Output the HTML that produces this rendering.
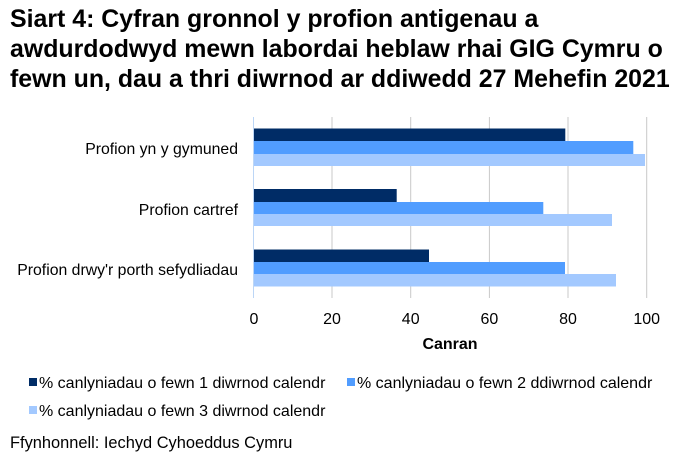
<!DOCTYPE html>
<html><head><meta charset="utf-8"><style>
body{margin:0;background:#fff;}
svg{display:block;font-family:"Liberation Sans",sans-serif;}
</style></head><body>
<svg width="677" height="469" xmlns="http://www.w3.org/2000/svg">
<g font-weight="bold" font-size="24.9" fill="#000">
<text x="10" y="27">Siart 4: Cyfran gronnol y profion antigenau a</text>
<text x="10" y="57">awdurdodwyd mewn labordai heblaw rhai GIG Cymru o</text>
<text x="10" y="87">fewn un, dau a thri diwrnod ar ddiwedd 27 Mehefin 2021</text>
</g>
<g stroke="#c8c8c8" stroke-width="1">
<line x1="332" y1="117" x2="332" y2="298"/><line x1="410.7" y1="117" x2="410.7" y2="298"/>
<line x1="489.4" y1="117" x2="489.4" y2="298"/><line x1="568" y1="117" x2="568" y2="298"/>
<line x1="646.7" y1="117" x2="646.7" y2="298"/>
</g>
<line x1="253.5" y1="117" x2="253.5" y2="298" stroke="#bcd6f6"/>
<g>
<rect x="254" y="128.5" width="311.3" height="12.5" fill="#002c66"/>
<rect x="254" y="141" width="379.3" height="13" fill="#519dff"/>
<rect x="254" y="154" width="391" height="12" fill="#a3c9ff"/>
<rect x="254" y="189" width="142.7" height="13" fill="#002c66"/>
<rect x="254" y="202" width="289.3" height="12" fill="#519dff"/>
<rect x="254" y="214" width="358" height="12" fill="#a3c9ff"/>
<rect x="254" y="249.5" width="175" height="12.5" fill="#002c66"/>
<rect x="254" y="262" width="311" height="12" fill="#519dff"/>
<rect x="254" y="274" width="362" height="12.5" fill="#a3c9ff"/>
</g>
<g font-size="15.8" fill="#000" text-anchor="end">
<text x="238" y="154">Profion yn y gymuned</text>
<text x="238" y="215">Profion cartref</text>
<text x="238" y="275">Profion drwy'r porth sefydliadau</text>
</g>
<g font-size="16" fill="#000" text-anchor="middle">
<text x="254" y="324">0</text><text x="332" y="324">20</text><text x="410.7" y="324">40</text>
<text x="489.4" y="324">60</text><text x="568" y="324">80</text><text x="646.7" y="324">100</text>
<text x="450" y="349" font-weight="bold">Canran</text>
</g>
<g font-size="16" fill="#000">
<rect x="29" y="378" width="8" height="8" fill="#002c66"/>
<text x="39" y="388">% canlyniadau o fewn 1 diwrnod calendr</text>
<rect x="347" y="378" width="8" height="8" fill="#519dff"/>
<text x="357" y="388">% canlyniadau o fewn 2 ddiwrnod calendr</text>
<rect x="29" y="406" width="8" height="8" fill="#a3c9ff"/>
<text x="39" y="416">% canlyniadau o fewn 3 diwrnod calendr</text>
<text x="10" y="448" font-size="16.4">Ffynhonnell: Iechyd Cyhoeddus Cymru</text>
</g>
</svg>
</body></html>
